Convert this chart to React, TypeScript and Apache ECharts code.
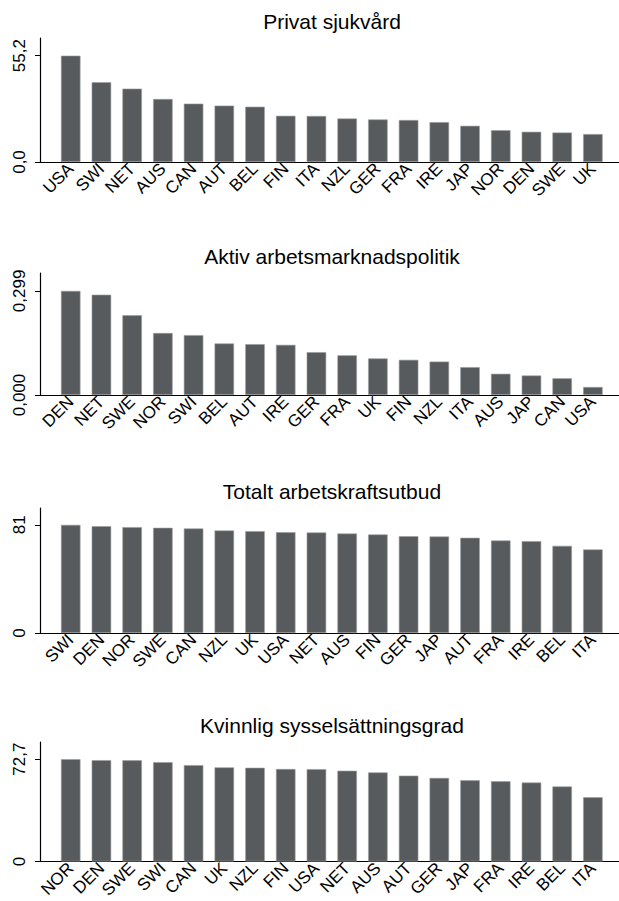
import React, { useEffect, useRef } from "react";
import * as echarts from "echarts";

const titles = [
  "Privat sjukvård",
  "Aktiv arbetsmarknadspolitik",
  "Totalt arbetskraftsutbud",
  "Kvinnlig sysselsättningsgrad",
];

const cats1 = ["USA", "SWI", "NET", "AUS", "CAN", "AUT", "BEL", "FIN", "ITA", "NZL", "GER", "FRA", "IRE", "JAP", "NOR", "DEN", "SWE", "UK"];
const vals1 = [55.2, 41.4, 38.1, 32.7, 30.3, 29.3, 28.7, 24.0, 23.9, 22.6, 22.1, 21.8, 20.7, 18.8, 16.5, 15.7, 15.3, 14.5];
const ticks1 = ["0,0", "55,2"];

const cats2 = ["DEN", "NET", "SWE", "NOR", "SWI", "BEL", "AUT", "IRE", "GER", "FRA", "UK", "FIN", "NZL", "ITA", "AUS", "JAP", "CAN", "USA"];
const vals2 = [0.299, 0.288, 0.229, 0.178, 0.172, 0.148, 0.146, 0.144, 0.123, 0.114, 0.105, 0.101, 0.096, 0.08, 0.061, 0.056, 0.048, 0.023];
const ticks2 = ["0,000", "0,299"];

const cats3 = ["SWI", "DEN", "NOR", "SWE", "CAN", "NZL", "UK", "USA", "NET", "AUS", "FIN", "GER", "JAP", "AUT", "FRA", "IRE", "BEL", "ITA"];
const vals3 = [81, 80.0, 79.3, 78.8, 78.3, 76.8, 76.3, 75.5, 75.3, 74.5, 73.8, 72.5, 72.3, 71.3, 69.3, 68.8, 65.3, 62.6];
const ticks3 = ["0", "81"];

const cats4 = ["NOR", "DEN", "SWE", "SWI", "CAN", "UK", "NZL", "FIN", "USA", "NET", "AUS", "AUT", "GER", "JAP", "FRA", "IRE", "BEL", "ITA"];
const vals4 = [72.7, 72.0, 71.9, 70.6, 68.5, 66.9, 66.6, 65.7, 65.6, 64.5, 63.3, 61.0, 59.4, 57.7, 57.0, 56.1, 53.3, 45.6];
const ticks4 = ["0", "72,7"];

const panels = [
  { cats: cats1, vals: vals1, ticks: ticks1, top: 38, height: 124, headroom: 1.1665 },
  { cats: cats2, vals: vals2, ticks: ticks2, top: 273, height: 122, headroom: 1.172 },
  { cats: cats3, vals: vals3, ticks: ticks3, top: 508, height: 125, headroom: 1.156 },
  { cats: cats4, vals: vals4, ticks: ticks4, top: 742, height: 121, headroom: 1.168 },
];

const FONT = "'Liberation Sans', Arial, Helvetica, sans-serif";

export default function App() {
  const ref = useRef<HTMLDivElement>(null);
  useEffect(() => {
    if (!ref.current) return;
    const chart = echarts.init(ref.current, null, { renderer: "svg" });
    const grid: any[] = [];
    const xAxis: any[] = [];
    const yAxis: any[] = [];
    const series: any[] = [];
    const title: any[] = [];
    panels.forEach((p, k) => {
      const maxV = Math.max(...p.vals);
      grid.push({ left: 40, right: 0, top: p.top, height: p.height, containLabel: false });
      title.push({
        text: titles[k],
        left: 332,
        textAlign: "center",
        top: p.top - 27,
        padding: 0,
        textStyle: { fontFamily: FONT, fontSize: 21, fontWeight: "normal", color: "#000" },
      });
      xAxis.push({
        type: "value",
        gridIndex: k,
        min: -1,
        max: 17.85,
        splitLine: { show: false },
        axisTick: { show: false },
        axisLine: { show: true, onZero: false, lineStyle: { color: "#000", width: 1.2 } },
        axisLabel: {
          customValues: p.cats.map((_, i) => i),
          formatter: (v: number) => p.cats[Math.round(v)] ?? "",
          rotate: 45,
          margin: 4,
          color: "#000",
          fontFamily: FONT,
          fontSize: 17,
        },
      });
      yAxis.push({
        type: "value",
        gridIndex: k,
        min: 0,
        max: maxV * p.headroom,
        splitLine: { show: false },
        axisLine: { show: true, onZero: false, lineStyle: { color: "#000", width: 1.2 } },
        axisTick: { show: true, length: 5, customValues: [0, maxV], lineStyle: { color: "#000" } },
        axisLabel: {
          customValues: [0, maxV],
          formatter: (v: number) => (v === 0 ? p.ticks[0] : p.ticks[1]),
          rotate: 90,
          margin: 12,
          color: "#000",
          fontFamily: FONT,
          fontSize: 17,
        },
      });
      series.push({
        type: "bar",
        xAxisIndex: k,
        yAxisIndex: k,
        barWidth: 19.5,
        data: p.vals.map((v, i) => [i, v]),
        itemStyle: { color: "#585b5d", borderColor: "#9a9c9d", borderWidth: 0.6 },
        silent: true,
      });
    });
    chart.setOption({
      animation: false,
      backgroundColor: "#fff",
      title,
      grid,
      xAxis,
      yAxis,
      series,
    });
    return () => chart.dispose();
  }, []);
  return (
    <div
      ref={ref}
      style={{ position: "fixed", left: 0, top: 0, width: 619, height: 901 }}
    />
  );
}
